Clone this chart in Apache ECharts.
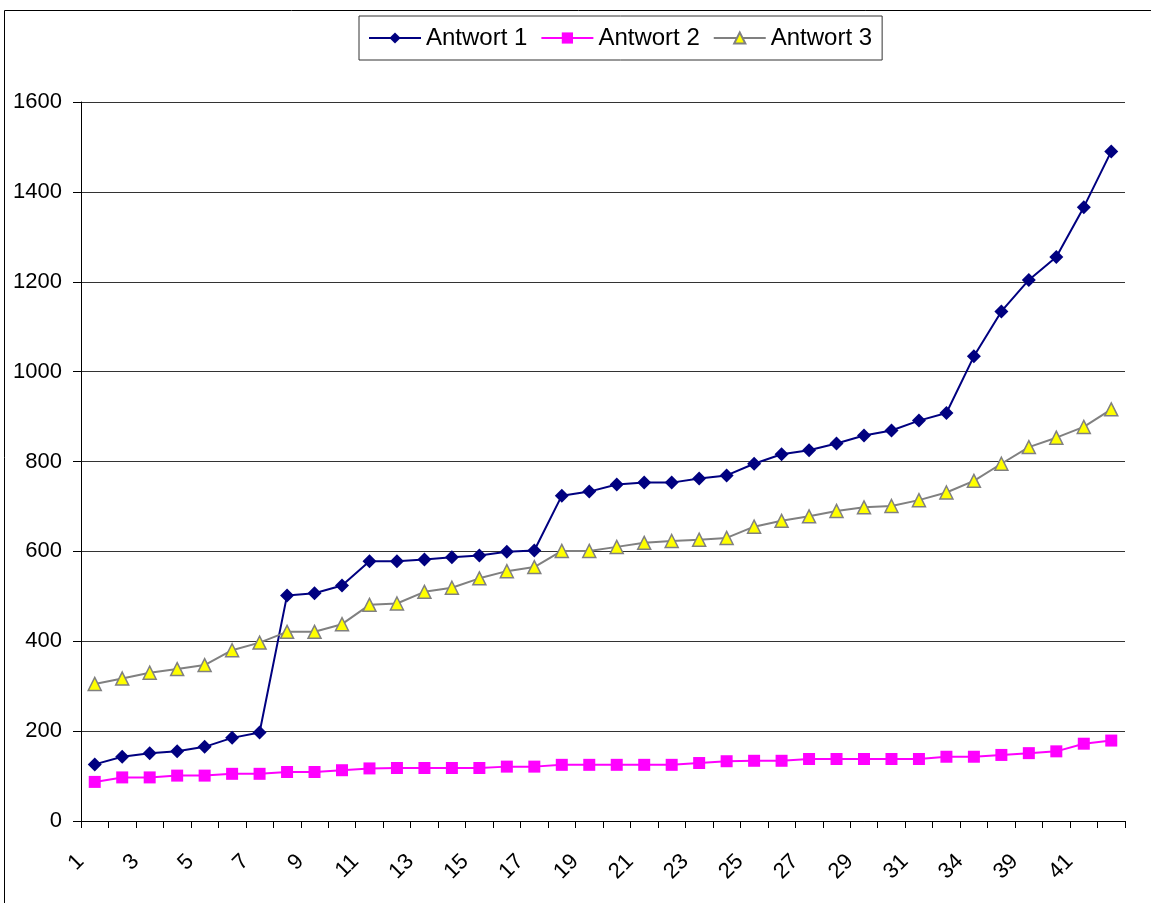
<!DOCTYPE html>
<html>
<head>
<meta charset="utf-8">
<script src="https://cdn.jsdelivr.net/npm/echarts@6/dist/echarts.min.js"></script>
<style>
html,body{margin:0;padding:0;background:#fff;}
#chart{width:1151px;height:903px;}
</style>
</head>
<body>
<div id="chart"></div>
<script>
const categories = ["1","2","3","4","5","6","7","8","9","10","11","12","13","14","15","16","17","18","19","20","21","22","23","24","25","26","27","28","29","30","31","33","34","37","39","40","41","42"];
const antwort1 = [126,143,151,155,165,185,197,502,507,524,578,578,582,587,591,599,602,724,733,749,753,753,762,769,795,816,825,840,858,869,891,908,1034,1134,1204,1255,1366,1490];
const antwort2 = [87,97,97,101,101,105,105,109,109,113,117,118,118,118,118,121,121,125,125,125,125,125,129,133,134,134,138,138,138,138,138,143,143,147,151,155,172,179];
const antwort3 = [305,317,330,338,347,380,397,421,421,438,481,484,510,519,540,556,565,601,601,610,619,623,626,630,655,668,678,690,698,701,714,731,757,795,832,853,877,916];
const seriesNames = ["Antwort 1","Antwort 2","Antwort 3"];

const FONT = "Liberation Sans, Arial, sans-serif";
const chart = echarts.init(document.getElementById('chart'), null, {renderer:'canvas'});
chart.setOption({
  animation:false,
  backgroundColor:'#fff',
  graphic:[{type:'rect', shape:{x:4.5,y:10.5,width:1300,height:1000}, style:{fill:'none',stroke:'#000',lineWidth:1}, silent:true}],
  legend:{
    left:359, top:16, orient:'horizontal',
    borderColor:'#333', borderWidth:1, padding:[10,10,10,9],
    itemWidth:52, itemHeight:14, itemGap:13,
    textStyle:{fontFamily:FONT, fontSize:24, color:'#000'},
    data:seriesNames
  },
  grid:{left:81, right:26, top:102, bottom:82, containLabel:false},
  xAxis:{
    type:'category', data:categories, boundaryGap:true,
    axisLine:{lineStyle:{color:'#000',width:1}},
    axisTick:{show:true, length:7, interval:0, lineStyle:{color:'#000'}},
    axisLabel:{interval:1, rotate:45, fontFamily:FONT, fontSize:22, color:'#000', margin:23, padding:[0,20,0,0]},
    splitLine:{show:false}
  },
  yAxis:{
    type:'value', min:0, max:1600, interval:200,
    axisLine:{show:true, lineStyle:{color:'#000',width:1}},
    axisTick:{show:true, length:8, lineStyle:{color:'#000'}},
    axisLabel:{fontFamily:FONT, fontSize:22, color:'#000', margin:19, formatter:function(v){return String(v);}},
    splitLine:{show:true, lineStyle:{color:'#333',width:1}}
  },
  series:[
    {name:seriesNames[0], type:'line', data:antwort1, symbol:'diamond', symbolSize:14,
     lineStyle:{color:'#000080',width:2}, itemStyle:{color:'#000080'}},
    {name:seriesNames[1], type:'line', data:antwort2, symbol:'rect', symbolSize:12,
     lineStyle:{color:'#FF00FF',width:2}, itemStyle:{color:'#FF00FF'}},
    {name:seriesNames[2], type:'line', data:antwort3, symbol:'triangle', symbolSize:13,
     lineStyle:{color:'#808080',width:2}, itemStyle:{color:'#FFFF00', borderColor:'#808080', borderWidth:1.5}}
  ]
});
</script>
</body>
</html>
